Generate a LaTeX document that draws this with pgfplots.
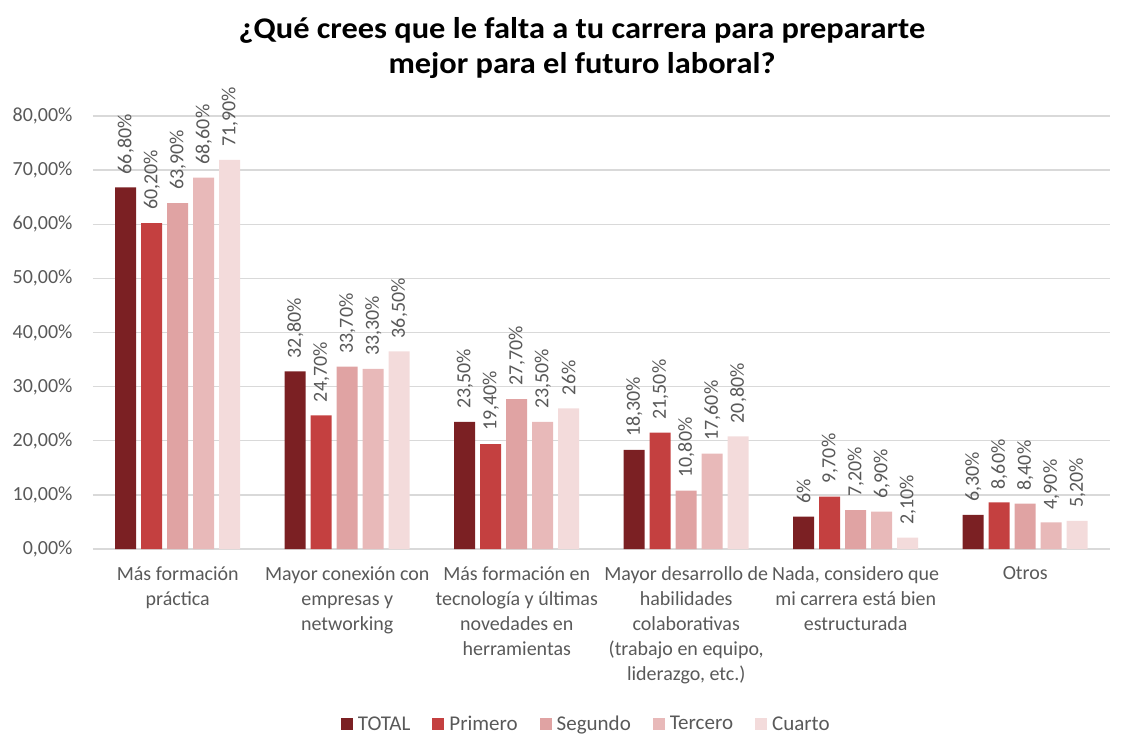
\documentclass[border=0pt]{standalone}
\usepackage{pgfplots}
\pgfplotsset{compat=1.18}
\usepackage{fontspec}
\setmainfont{Carlito}
\newfontfamily\titlefont{Carlito}[FakeStretch=1.08]
\definecolor{cTotal}{HTML}{7B2023}
\definecolor{cPrim}{HTML}{C44040}
\definecolor{cSeg}{HTML}{E0A3A3}
\definecolor{cTer}{HTML}{E8B9B9}
\definecolor{cCua}{HTML}{F3DBDB}
\definecolor{tgray}{HTML}{595959}
\definecolor{ggray}{HTML}{D9D9D9}
\begin{document}
\begin{tikzpicture}
\useasboundingbox (-93pt,-185pt) rectangle (1041pt,549pt);
\begin{axis}[
  at={(0pt,0pt)}, anchor=south west,
  scale only axis, width=1017pt, height=433pt,
  ybar=5pt, bar width=21pt,
  xmin=-0.5, xmax=5.5, ymin=0, ymax=80,
  axis line style={draw=none},
  ymajorgrids, grid style={ggray, line width=1.3pt},
  major tick length=0pt,
  ytick={0,10,...,80},
  yticklabels={0{,}00\%,10{,}00\%,20{,}00\%,30{,}00\%,40{,}00\%,50{,}00\%,60{,}00\%,70{,}00\%,80{,}00\%},
  yticklabel style={font=\fontsize{20}{24}\selectfont, text=tgray, xshift=-17pt},
  xtick={0,...,5},
  xticklabels={{Más formación\\práctica},{Mayor conexión con\\empresas y\\networking},{Más formación en\\tecnología y últimas\\novedades en\\herramientas},{Mayor desarrollo de\\habilidades\\colaborativas\\(trabajo en equipo,\\liderazgo, etc.)},{Nada, considero que\\mi carrera está bien\\estructurada},{Otros}},
  xticklabel style={font=\fontsize{20}{25}\selectfont, text=tgray, align=center, anchor=north, yshift=-14pt},
  clip=false,
  point meta=explicit symbolic,
  nodes near coords={\pgfplotspointmeta},
  every node near coord/.append style={rotate=90, anchor=west, font=\fontsize{20}{24}\selectfont, text=tgray, inner xsep=13pt, inner ysep=0pt},
  every axis plot post/.append style={legend image code/.code={\fill[##1] (0pt,-6pt) rectangle (12pt,6pt);}},
  legend columns=5,
  legend style={draw=none, fill=none, at={(axis description cs:0.485,-0.404)}, anchor=center,
    font=\fontsize{21}{24}\selectfont, text=tgray,
    /tikz/every odd column/.append style={column sep=3pt},
    /tikz/every even column/.append style={column sep=20pt}},
]
\addplot[fill=cTotal, draw=none] coordinates {(0,66.8) [66{,}80\%] (1,32.8) [32{,}80\%] (2,23.5) [23{,}50\%] (3,18.3) [18{,}30\%] (4,6) [6\%] (5,6.3) [6{,}30\%]};
\addplot[fill=cPrim, draw=none] coordinates {(0,60.2) [60{,}20\%] (1,24.7) [24{,}70\%] (2,19.4) [19{,}40\%] (3,21.5) [21{,}50\%] (4,9.7) [9{,}70\%] (5,8.6) [8{,}60\%]};
\addplot[fill=cSeg, draw=none] coordinates {(0,63.9) [63{,}90\%] (1,33.7) [33{,}70\%] (2,27.7) [27{,}70\%] (3,10.8) [10{,}80\%] (4,7.2) [7{,}20\%] (5,8.4) [8{,}40\%]};
\addplot[fill=cTer, draw=none] coordinates {(0,68.6) [68{,}60\%] (1,33.3) [33{,}30\%] (2,23.5) [23{,}50\%] (3,17.6) [17{,}60\%] (4,6.9) [6{,}90\%] (5,4.9) [4{,}90\%]};
\addplot[fill=cCua, draw=none] coordinates {(0,71.9) [71{,}90\%] (1,36.5) [36{,}50\%] (2,26) [26\%] (3,20.8) [20{,}80\%] (4,2.1) [2{,}10\%] (5,5.2) [5{,}20\%]};
\legend{TOTAL,Primero,Segundo,Tercero,Cuarto}
\end{axis}
\node[font=\titlefont\bfseries\fontsize{30}{35}\selectfont, align=center, text=black] at (489pt,501pt) {¿Qué crees que le falta a tu carrera para prepararte\\mejor para el futuro laboral?};
\end{tikzpicture}
\end{document}
